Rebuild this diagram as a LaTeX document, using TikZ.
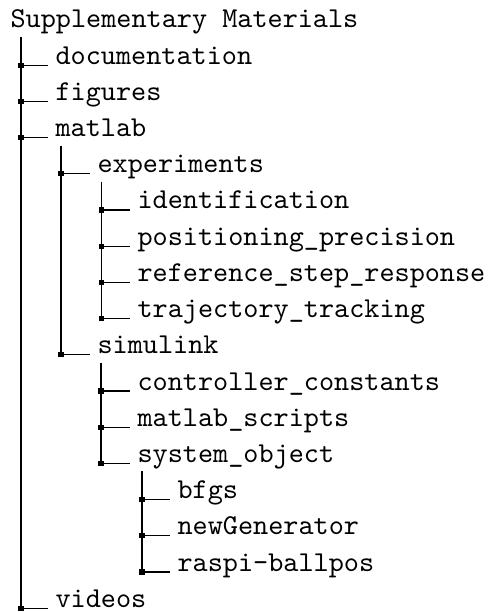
\documentclass[tikz,border=0pt]{standalone}
\usepackage{tikz}
\usetikzlibrary{calc}

\begin{document}
\begin{tikzpicture}[x=0.3472pt, y=-0.3472pt,
  every node/.style={anchor=base west, inner sep=0pt, font=\ttfamily},
  branch/.style={black, line width=0.4pt},
  junction/.style={fill=black, rectangle, anchor=center, minimum size=1.8pt, inner sep=0pt}]
\useasboundingbox (0,0) rectangle (489,612);
% entries, one per row
\node (root) at (10,28) {Supplementary Materials};
\node (doc) at (55,64.2) {documentation};
\node (fig) at (55,100.4) {figures};
\node (matlab) at (55,136.6) {matlab};
\node (exper) at (97,172.8) {experiments};
\node (ident) at (137,209) {identification};
\node (posprec) at (137,245.2) {positioning\_precision};
\node (refstep) at (137,281.4) {reference\_step\_response};
\node (trajtrack) at (137,317.6) {trajectory\_tracking};
\node (simulink) at (97,353.8) {simulink};
\node (ctrlconst) at (137,390) {controller\_constants};
\node (mscripts) at (137,426.2) {matlab\_scripts};
\node (sysobj) at (137,462.4) {system\_object};
\node (bfgs) at (177,498.6) {bfgs};
\node (newgen) at (177,534.8) {newGenerator};
\node (raspi) at (177,571) {raspi-ballpos};
\node (videos) at (55,607.2) {videos};
% branches
\foreach \p/\c/\dx in {root/doc/11, root/fig/11, root/matlab/11, root/videos/11,
    matlab/exper/6, matlab/simulink/6,
    exper/ident/4.5, exper/posprec/4.5, exper/refstep/4.5, exper/trajtrack/4.5,
    simulink/ctrlconst/4, simulink/mscripts/4, simulink/sysobj/4,
    sysobj/bfgs/5, sysobj/newgen/5, sysobj/raspi/5}
  \draw[branch] ($(\p.base west)+(\dx,9)$) |- ($(\c.base west)+(-7,1)$)
    node[pos=0.5, junction] {};
\end{tikzpicture}
\end{document}
